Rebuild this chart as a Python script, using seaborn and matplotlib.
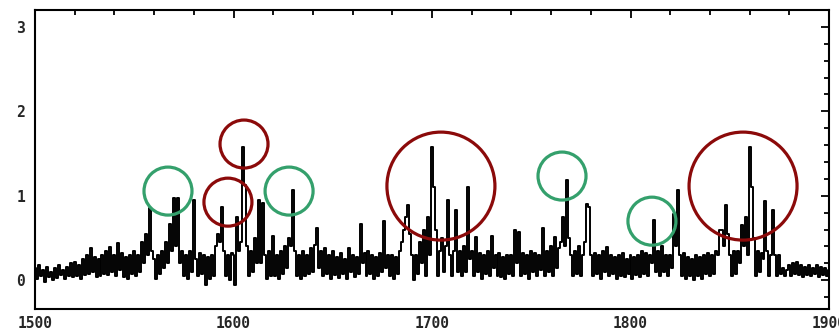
import numpy as np
import pandas as pd
import matplotlib
matplotlib.use("Agg")
import matplotlib.pyplot as plt
from matplotlib.ticker import MultipleLocator
import seaborn as sns

# ---- data (one value per unit, 1500..1900) ----
x_start, x_step = 1500, 1
intensity = [
    0.15, 0.02, 0.18, 0.05, 0.12, -0.02, 0.16, 0.04, 0.10, 0.00,
    0.14, 0.03, 0.18, 0.06, 0.12, 0.01, 0.16, 0.05, 0.20, 0.04,   # 1500-1519
    0.22, 0.05, 0.18, 0.02, 0.25, 0.06, 0.30, 0.08, 0.38, 0.10,
    0.28, 0.04, 0.25, 0.05, 0.30, 0.08, 0.35, 0.06, 0.39, 0.10,   # 1520-1539
    0.30, 0.05, 0.44, 0.12, 0.32, 0.04, 0.28, 0.02, 0.30, 0.08,
    0.35, 0.05, 0.30, 0.10, 0.45, 0.20, 0.55, 0.30, 0.85, 0.35,   # 1540-1559
    0.25, 0.02, 0.30, 0.08, 0.35, 0.15, 0.45, 0.20, 0.67, 0.35,
    0.97, 0.40, 0.98, 0.20, 0.35, 0.05, 0.30, 0.02, 0.35, 0.10,   # 1560-1579
    0.95, 0.25, 0.05, 0.32, 0.08, 0.30, -0.05, 0.28, 0.02, 0.30,
    0.05, 0.40, 0.55, 0.45, 0.87, 0.35, 0.05, 0.30, 0.00, 0.32,   # 1580-1599
    0.30, -0.05, 0.75, 0.35, 0.45, 1.58, 1.13, 0.40, 0.05, 0.35,
    0.10, 0.50, 0.20, 0.95, 0.20, 0.91, 0.30, 0.02, 0.35, 0.05,   # 1600-1619
    0.53, 0.05, 0.30, 0.02, 0.35, 0.08, 0.40, 0.15, 0.50, 0.40,
    1.07, 0.35, 0.05, 0.30, 0.02, 0.35, 0.05, 0.30, 0.08, 0.38,   # 1620-1639
    0.10, 0.42, 0.62, 0.15, 0.35, 0.05, 0.38, 0.08, 0.30, 0.02,
    0.35, 0.06, 0.28, 0.03, 0.32, 0.08, 0.25, 0.02, 0.38, 0.10,   # 1640-1659
    0.30, 0.04, 0.28, 0.08, 0.67, 0.20, 0.32, 0.05, 0.35, 0.08,
    0.30, 0.02, 0.28, 0.05, 0.32, 0.10, 0.70, 0.15, 0.30, 0.05,   # 1660-1679
    0.30, 0.02, 0.28, 0.08, 0.35, 0.45, 0.60, 0.75, 0.89, 0.55,
    0.30, 0.00, 0.30, 0.08, 0.45, 0.20, 0.60, 0.05, 0.75, 0.30,   # 1680-1699
    1.58, 1.10, 0.60, 0.05, 0.35, 0.50, 0.10, 0.40, 0.95, 0.30,
    0.05, 0.35, 0.83, 0.10, 0.35, 0.05, 0.40, 0.10, 1.10, 0.25,   # 1700-1719
    0.35, 0.05, 0.51, 0.10, 0.32, 0.02, 0.30, 0.08, 0.35, 0.05,
    0.53, 0.15, 0.30, 0.05, 0.32, 0.04, 0.28, 0.02, 0.30, 0.08,   # 1720-1739
    0.30, 0.05, 0.59, 0.20, 0.57, 0.05, 0.32, 0.08, 0.30, 0.02,
    0.35, 0.10, 0.32, 0.05, 0.30, 0.12, 0.62, 0.05, 0.35, 0.10,   # 1740-1759
    0.40, 0.05, 0.51, 0.15, 0.38, 0.45, 0.75, 0.40, 1.19, 0.50,
    0.30, 0.05, 0.35, 0.08, 0.40, 0.05, 0.30, 0.45, 0.90, 0.87,   # 1760-1779
    0.30, 0.05, 0.32, 0.08, 0.30, 0.02, 0.35, 0.10, 0.39, 0.05,
    0.30, 0.08, 0.28, 0.02, 0.30, 0.05, 0.32, 0.04, 0.25, 0.08,   # 1780-1799
    0.30, 0.02, 0.28, 0.06, 0.30, 0.04, 0.35, 0.08, 0.32, 0.05,
    0.30, 0.20, 0.71, 0.10, 0.35, 0.05, 0.41, 0.10, 0.30, 0.05,   # 1800-1819
    0.30, 0.15, 0.78, 0.40, 1.07, 0.30, 0.05, 0.32, 0.02, 0.28,
    0.05, 0.25, 0.00, 0.30, 0.05, 0.28, 0.02, 0.30, 0.08, 0.32,   # 1820-1839
    0.05, 0.30, 0.08, 0.35, 0.30, 0.59, 0.60, 0.40, 0.89, 0.55,
    0.30, 0.05, 0.35, 0.08, 0.35, 0.20, 0.65, 0.40, 0.75, 0.30,   # 1840-1859
    1.58, 1.10, 0.50, 0.05, 0.35, 0.10, 0.32, 0.25, 0.94, 0.35,
    0.05, 0.30, 0.83, 0.30, 0.05, 0.30, 0.08, 0.15, 0.05, 0.12,   # 1860-1879
    0.18, 0.05, 0.20, 0.08, 0.22, 0.06, 0.18, 0.04, 0.16, 0.06,
    0.18, 0.05, 0.15, 0.08, 0.18, 0.04, 0.16, 0.06, 0.15, 0.05,   # 1880-1899
    0.12,                                                         # 1900
]
wavenumber = np.arange(len(intensity)) * x_step + x_start

# annotation circles (centre x, centre y, kind)
circle_x = [1567.0, 1597.2, 1605.3, 1628.0, 1704.5, 1765.5, 1810.8, 1856.7]
circle_y = [1.056, 0.925, 1.613, 1.056, 1.115, 1.234, 0.700, 1.115]
circle_kind = ["green", "red", "red", "green", "red_big", "green", "green", "red_big"]

x_ticks = [1500, 1600, 1700, 1800, 1900]
y_ticks = [0, 1, 2, 3]

df = pd.DataFrame({"wavenumber": wavenumber, "intensity": intensity})

sns.set_style("white")
fig = plt.figure(figsize=(8.39, 3.30), dpi=100)
ax = fig.add_axes([35 / 839, 21 / 330, 794 / 839, 299 / 330])

sns.lineplot(data=df, x="wavenumber", y="intensity", ax=ax, color="black",
             linewidth=1.4, drawstyle="steps-mid", estimator=None, sort=True)

red = "#8b0a0a"
green = "#34a06c"
style = {"green": (green, 1194), "red": (red, 1194), "red_big": (red, 6047)}
for cx, cy, k in zip(circle_x, circle_y, circle_kind):
    col, s = style[k]
    ax.scatter([cx], [cy], s=s, facecolors="none", edgecolors=col,
               linewidths=2.3, zorder=5)

ax.set_xlim(1500, 1900)
ax.set_ylim(-0.34, 3.2)
ax.set_xticks(x_ticks)
ax.set_yticks(y_ticks)
ax.set_xticklabels([str(t) for t in x_ticks])
ax.set_yticklabels([str(t) for t in y_ticks])
ax.xaxis.set_minor_locator(MultipleLocator(20))
ax.yaxis.set_minor_locator(MultipleLocator(0.2))
ax.tick_params(which="both", direction="in", top=True, right=True,
               width=1.3, color="black")
ax.tick_params(which="major", length=6, labelsize=10.5)
ax.tick_params(which="minor", length=3.5)
ax.tick_params(axis="x", which="major", pad=5)
ax.tick_params(axis="y", which="major", pad=7)
for lab in ax.get_xticklabels() + ax.get_yticklabels():
    lab.set_family("DejaVu Sans Mono")
    lab.set_fontweight("bold")
ax.set_xlabel("")
ax.set_ylabel("")
for sp in ax.spines.values():
    sp.set_linewidth(1.5)
    sp.set_color("black")

fig.savefig("out.png", dpi=100)
